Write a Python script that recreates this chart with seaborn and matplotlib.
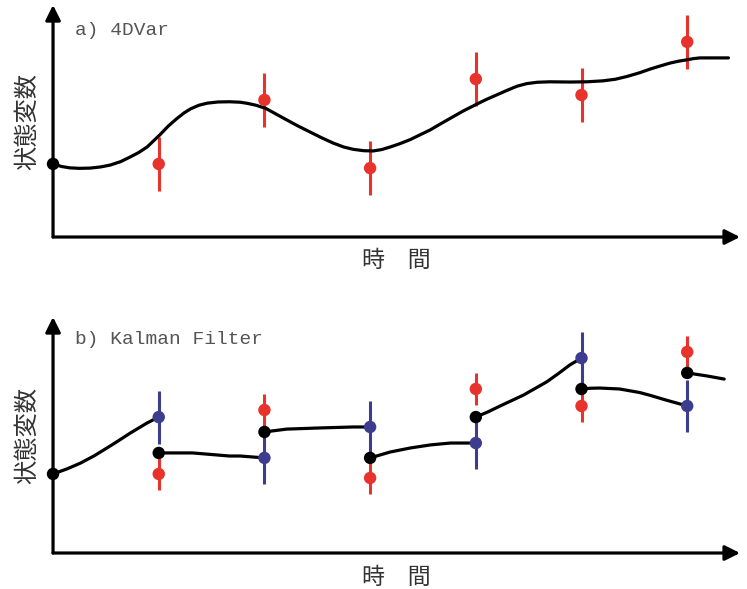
import matplotlib
matplotlib.use("Agg")
import matplotlib.pyplot as plt
import numpy as np
import pandas as pd
import seaborn as sns

# --- data (time steps 1..6, arbitrary state units 0..10) ---
obs_t = [1, 2, 3, 4, 5, 6]

# a) 4DVar: observations and one smooth analysis trajectory
var_obs = [3.15, 5.91, 2.97, 6.81, 6.12, 8.41]
var_obs_err = 1.15
var_curve_t = [0.00, 0.08, 0.16, 0.25, 0.35, 0.45, 0.54, 0.64, 0.73, 0.81,
               0.89, 0.95, 1.01, 1.09, 1.17, 1.24, 1.30, 1.38, 1.46, 1.56,
               1.67, 1.77, 1.84, 1.92, 2.01, 2.11, 2.21, 2.32, 2.43, 2.54,
               2.65, 2.75, 2.84, 2.94, 3.03, 3.11, 3.19, 3.28, 3.38, 3.47,
               3.57, 3.66, 3.76, 3.88, 4.01, 4.10, 4.20, 4.30, 4.39, 4.48,
               4.58, 4.70, 4.89, 5.05, 5.20, 5.32, 5.43, 5.55, 5.65, 5.75,
               5.84, 5.92, 6.00, 6.06, 6.12, 6.25, 6.39]
var_curve_v = [3.15, 3.04, 2.98, 2.96, 2.97, 3.02, 3.10, 3.25, 3.45, 3.64,
               3.88, 4.14, 4.40, 4.78, 5.10, 5.35, 5.52, 5.68, 5.77, 5.82,
               5.83, 5.81, 5.76, 5.68, 5.55, 5.30, 5.05, 4.78, 4.53, 4.28,
               4.05, 3.88, 3.78, 3.72, 3.71, 3.77, 3.88, 4.02, 4.20, 4.40,
               4.62, 4.86, 5.12, 5.43, 5.73, 5.93, 6.13, 6.33, 6.50, 6.61,
               6.67, 6.69, 6.68, 6.69, 6.73, 6.80, 6.92, 7.08, 7.24, 7.38,
               7.50, 7.58, 7.64, 7.69, 7.72, 7.72, 7.72]

# b) Kalman filter: forecast (blue), observation (red), analysis (black)
kf_forecast = [5.76, 4.03, 5.34, 4.66, 8.26, 6.23]
kf_obs = [3.35, 6.06, 3.18, 6.95, 6.23, 8.52]
kf_analysis = [4.24, 5.13, 4.03, 5.76, 6.95, 7.63]
kf_forecast_err = 1.12
kf_obs_err = 0.66
kf_start = 3.35

# forecast segments between analysis times
kf_seg_id = [0] * 9 + [1] * 5 + [2] * 5 + [3] * 6 + [4] * 8 + [5] * 8 + [6] * 3
kf_seg_t = [0.00, 0.13, 0.26, 0.39, 0.51, 0.62, 0.73, 0.89, 1.00,
            1.00, 1.32, 1.67, 1.77, 2.00,
            2.00, 2.21, 2.53, 2.84, 3.00,
            3.00, 3.19, 3.38, 3.57, 3.76, 4.00,
            4.00, 4.12, 4.23, 4.45, 4.67, 4.78, 4.89, 5.00,
            5.00, 5.08, 5.17, 5.36, 5.55, 5.65, 5.80, 6.00,
            6.00, 6.19, 6.35]
kf_seg_v = [3.35, 3.56, 3.81, 4.12, 4.45, 4.76, 5.08, 5.51, 5.76,
            4.24, 4.24, 4.11, 4.11, 4.03,
            5.13, 5.25, 5.30, 5.34, 5.34,
            4.03, 4.28, 4.45, 4.58, 4.66, 4.66,
            5.76, 5.99, 6.23, 6.69, 7.25, 7.60, 7.97, 8.26,
            6.95, 6.98, 6.99, 6.95, 6.80, 6.68, 6.48, 6.23,
            7.63, 7.50, 7.37]

RED = "#e8322c"
BLUE = "#3d3d8f"
TEXT_GREY = "#555555"
LABEL_GREY = "#333333"

sns.set_theme(style="white")
plt.rcParams["font.family"] = ["Noto Sans CJK JP", "DejaVu Sans"]


def draw_axes_arrows(ax):
    """Hide the spines and draw arrowed x/y axes instead."""
    for s in ax.spines.values():
        s.set_visible(False)
    style = dict(arrowstyle="-|>,head_length=0.6,head_width=0.3", color="black",
                 lw=2.3, mutation_scale=15, shrinkA=0, shrinkB=0)
    ax.annotate("", xy=(1, 0), xytext=(0, 0), xycoords="axes fraction",
                arrowprops=style, annotation_clip=False)
    ax.annotate("", xy=(0, 1), xytext=(0, 0), xycoords="axes fraction",
                arrowprops=style, annotation_clip=False)
    ax.set(xlim=(0, 6.5), ylim=(0, 10), xticks=[], yticks=[])
    ax.set_xlabel(None)
    ax.set_ylabel(None)
    ax.text(0.5, -0.103, "時\u3000間", transform=ax.transAxes, ha="center",
            va="center", fontsize=16.5, color=LABEL_GREY)
    ax.text(-0.038, 0.5, "状態変数", transform=ax.transAxes, ha="center",
            va="center", rotation=90, fontsize=17.5, color=LABEL_GREY)


line_kw = dict(color="black", lw=2.3, solid_joinstyle="round",
               solid_capstyle="round")

fig = plt.figure(figsize=(7.47, 5.89), dpi=100)
ax_a = fig.add_axes([0.0710, 0.5976, 0.9197, 0.3939])
ax_b = fig.add_axes([0.0710, 0.0611, 0.9197, 0.4007])

# ---- a) 4DVar ----
obs_t_arr = np.array(obs_t)
var_obs_arr = np.array(var_obs)
ax_a.vlines(obs_t_arr, var_obs_arr - var_obs_err, var_obs_arr + var_obs_err,
            color=RED, lw=2.2, zorder=2)
sns.lineplot(x=var_curve_t, y=var_curve_v, ax=ax_a, sort=False,
             estimator=None, zorder=3, **line_kw)
sns.scatterplot(x=obs_t, y=var_obs, ax=ax_a, color=RED, s=80,
                edgecolor="none", zorder=4)
ax_a.scatter([0], [var_curve_v[0]], color="black", s=80, zorder=5,
             clip_on=False, edgecolors="none")
draw_axes_arrows(ax_a)
ax_a.text(0.032, 0.892, "a) 4DVar", transform=ax_a.transAxes, ha="left",
          va="center", fontsize=14, color=TEXT_GREY, family="Liberation Mono")

# ---- b) Kalman Filter ----
fc = np.array(kf_forecast)
ob = np.array(kf_obs)
ax_b.vlines(obs_t_arr, fc - kf_forecast_err, fc + kf_forecast_err,
            color=BLUE, lw=2.2, zorder=2)
ax_b.vlines(obs_t_arr, ob - kf_obs_err, ob + kf_obs_err,
            color=RED, lw=2.2, zorder=2)
seg_df = pd.DataFrame({"seg": kf_seg_id, "t": kf_seg_t, "v": kf_seg_v})
sns.lineplot(data=seg_df, x="t", y="v", units="seg", estimator=None, sort=False,
             ax=ax_b, zorder=3, **line_kw)
sns.scatterplot(x=obs_t, y=kf_forecast, ax=ax_b, color=BLUE, s=80,
                edgecolor="none", zorder=4)
sns.scatterplot(x=obs_t, y=kf_obs, ax=ax_b, color=RED, s=80,
                edgecolor="none", zorder=4)
sns.scatterplot(x=obs_t, y=kf_analysis, ax=ax_b, color="black", s=80,
                edgecolor="none", zorder=5)
ax_b.scatter([0], [kf_start], color="black", s=80, zorder=5,
             clip_on=False, edgecolors="none")
draw_axes_arrows(ax_b)
ax_b.text(0.032, 0.903, "b) Kalman Filter", transform=ax_b.transAxes, ha="left",
          va="center", fontsize=14, color=TEXT_GREY, family="Liberation Mono")

fig.savefig("out.png", dpi=100)
